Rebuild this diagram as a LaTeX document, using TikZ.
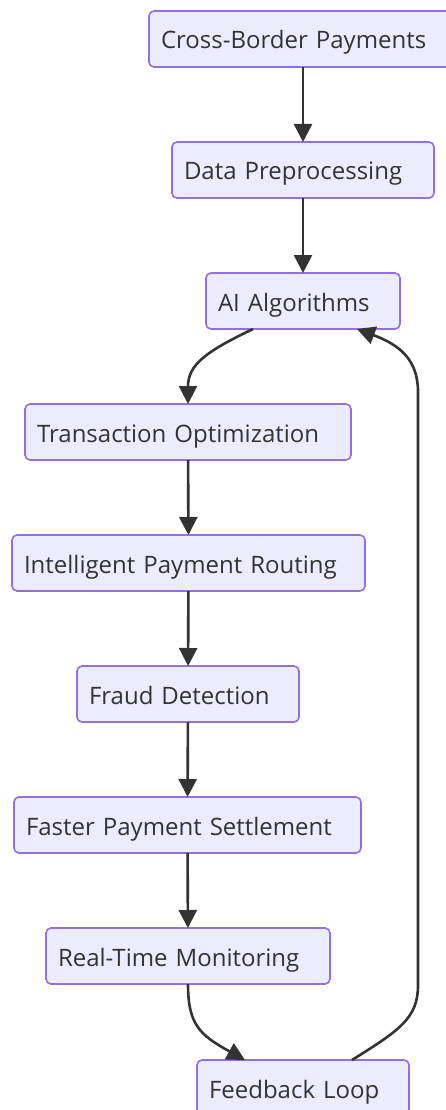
\documentclass[tikz,border=0pt]{standalone}
\usepackage{fontspec}
\setmainfont{Open Sans}
\usetikzlibrary{arrows.meta}
\definecolor{boxfill}{HTML}{ECECFF}
\definecolor{boxline}{HTML}{9370DB}
\definecolor{ink}{HTML}{333333}
\tikzset{
  box/.style={draw=boxline, fill=boxfill, line width=1.6pt, rounded corners=5pt,
    minimum height=56pt, inner xsep=12pt, inner ysep=0pt, outer sep=0pt,
    text height=20pt, text depth=0pt,
    align=left, text=ink, font=\fontsize{24}{28}\selectfont},
  edge/.style={draw=ink, line width=2.6pt,
    -{Triangle[length=18pt, width=18pt]}},
}
\newcommand{\stage}[5]{% name, left, right, center y, text
  \pgfmathsetmacro{\bw}{#3-#2}%
  \pgfmathsetmacro{\tw}{#3-#2-24}%
  \node[box, minimum width=\bw pt, text width=\tw pt] (#1) at ({(#2+#3)/2},#4) {#5};%
}
\begin{document}
\begin{tikzpicture}[x=1pt, y=-1pt]
  \useasboundingbox (0,0) rectangle (446,1110);
  \stage{cbp}{149}{457}{39}{Cross-Border Payments}
  \stage{dp}{172}{434}{170}{Data Preprocessing}
  \stage{ai}{206}{400}{301}{AI Algorithms}
  \stage{to}{25}{351}{432}{Transaction Optimization}
  \stage{ipr}{12}{365}{563}{Intelligent Payment Routing}
  \stage{fd}{77}{299}{694}{Fraud Detection}
  \stage{fps}{14}{361}{825}{Faster Payment Settlement}
  \stage{rtm}{46}{330}{956}{Real-Time Monitoring}
  \stage{fl}{197}{409}{1088}{Feedback Loop}

  \draw[edge] (cbp) -- (dp);
  \draw[edge] (dp) -- (ai);
  \draw[edge] ([xshift=-50pt]ai.south) .. controls (205,352) and (188,365) .. (to.north);
  \draw[edge] (to) -- (ipr);
  \draw[edge] (ipr) -- (fd);
  \draw[edge] (fd) -- (fps);
  \draw[edge] (fps) -- (rtm);
  \draw[edge] (rtm.south) .. controls (188,1025) and (200,1035) .. ([xshift=-58pt]fl.north);
  \draw[edge] ([xshift=49pt]fl.north) .. controls (400,1030) and (418,1018) .. (418,985)
    -- (418,392) .. controls (418,360) and (400,345) .. ([xshift=54pt]ai.south);
\end{tikzpicture}
\end{document}
